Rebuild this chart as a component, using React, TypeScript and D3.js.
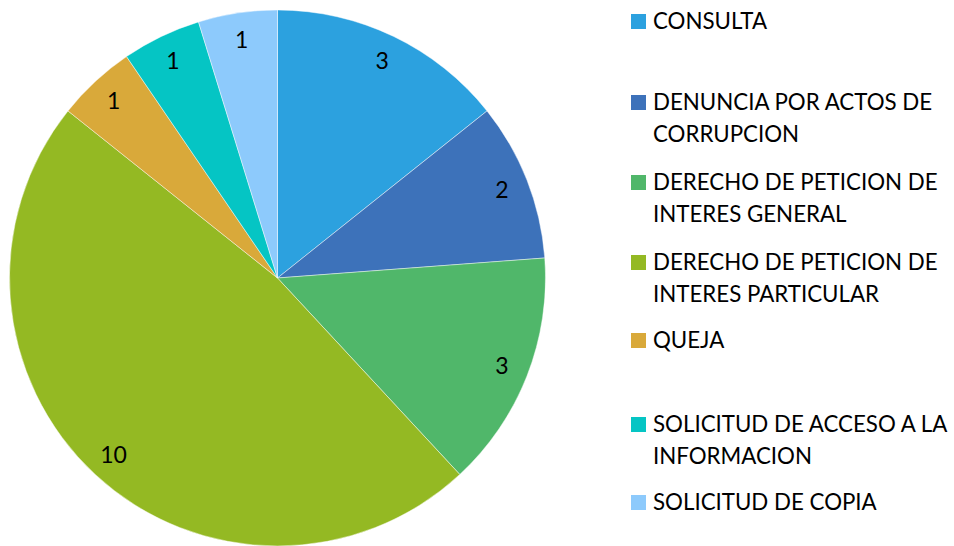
import React from "react";
import * as d3 from "d3";

const categories = [
  "CONSULTA",
  "DENUNCIA POR ACTOS DE CORRUPCION",
  "DERECHO DE PETICION DE INTERES GENERAL",
  "DERECHO DE PETICION DE INTERES PARTICULAR",
  "QUEJA",
  "SOLICITUD DE ACCESO A LA INFORMACION",
  "SOLICITUD DE COPIA",
];
const values = [3, 2, 3, 10, 1, 1, 1];
const legendLines = [
  ["CONSULTA"],
  ["DENUNCIA POR ACTOS DE", "CORRUPCION"],
  ["DERECHO DE PETICION DE", "INTERES GENERAL"],
  ["DERECHO DE PETICION DE", "INTERES PARTICULAR"],
  ["QUEJA"],
  ["SOLICITUD DE ACCESO A LA", "INFORMACION"],
  ["SOLICITUD DE COPIA"],
];
const colors = ["#2ca1df", "#3d72ba", "#50b76a", "#94b923", "#d9a93a", "#05c5c4", "#8dcafc"];

const W = 954, H = 546;
const cx = 277.5, cy = 278, R = 268, labelR = 241;
const legendBaselines = [29, 110, 190, 270, 348, 432, 510];
const lineGap = 32;
const FONT = "Lato, 'Open Sans', sans-serif";

export default function App() {
  const pie = d3.pie<number>().sort(null).value((d) => d)(values);
  const arc = d3.arc<d3.PieArcDatum<number>>().innerRadius(0).outerRadius(R);
  const labelArc = d3.arc<d3.PieArcDatum<number>>().innerRadius(labelR).outerRadius(labelR);
  return (
    <svg width={W} height={H} style={{ position: "absolute", left: 0, top: 0 }} fontFamily={FONT}>
      <rect width={W} height={H} fill="#fff" />
      <g transform={`translate(${cx},${cy})`}>
        {pie.map((p, i) => (
          <path key={categories[i]} d={arc(p) || ""} fill={colors[i]} stroke="#ffffff" strokeOpacity={0.6} strokeWidth={0.75} />
        ))}
        {pie.map((p, i) => {
          const [x, y] = labelArc.centroid(p);
          return (
            <text key={"l" + i} x={x} y={y} dy="0.35em" textAnchor="middle" fontSize={23} fill="#000">
              {values[i]}
            </text>
          );
        })}
      </g>
      <g>
        {legendLines.map((lines, i) => (
          <g key={"lg" + i}>
            <rect x={631} y={legendBaselines[i] - 15} width={15} height={15} fill={colors[i]} />
            {lines.map((t, j) => (
              <text key={j} x={653} y={legendBaselines[i] + j * lineGap} fontSize={22.3} fill="#000">
                {t}
              </text>
            ))}
          </g>
        ))}
      </g>
    </svg>
  );
}
